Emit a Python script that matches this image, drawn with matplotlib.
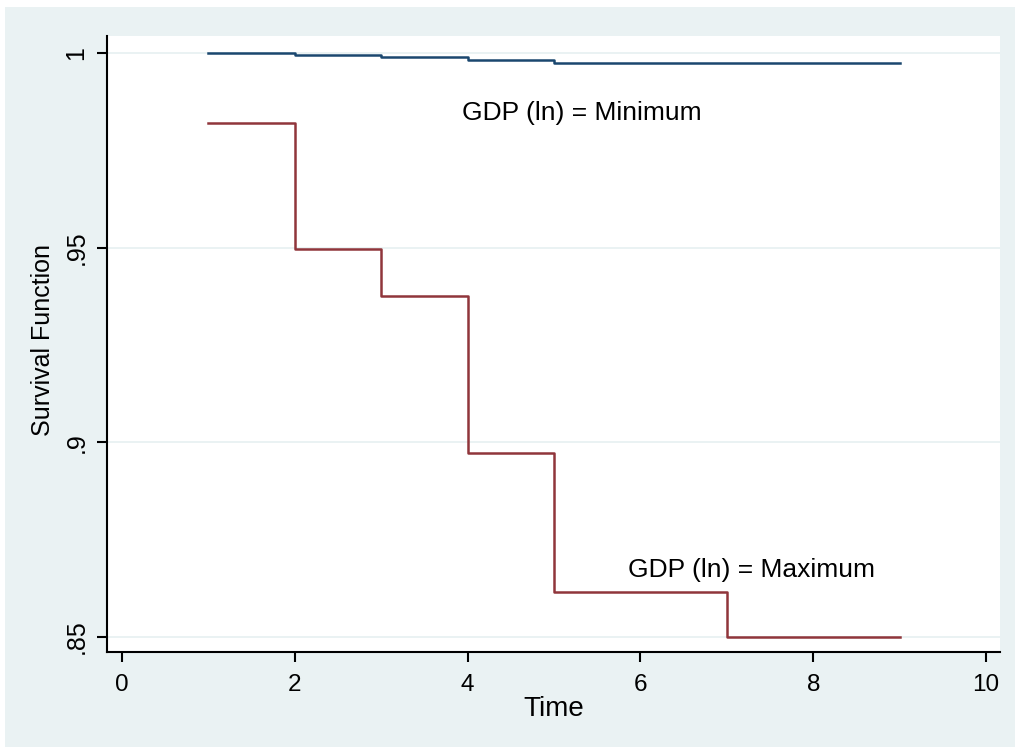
import matplotlib.pyplot as plt
from matplotlib.patches import Rectangle

plt.rcParams['font.family'] = ['Liberation Sans', 'DejaVu Sans']

# Kaplan-Meier style survival estimates by GDP (ln) level
time = [1, 2, 3, 4, 5, 7, 9]
surv_min = [1.0, 0.9995, 0.9989, 0.9983, 0.9973, 0.9973, 0.9973]
surv_max = [0.982, 0.9497, 0.9377, 0.8972, 0.8615, 0.85, 0.85]

xticks = [0, 2, 4, 6, 8, 10]
yticks = [0.85, 0.90, 0.95, 1.0]
ytick_labels = ['.85', '.9', '.95', '1']

bg = '#EAF2F3'

fig = plt.figure(figsize=(10.15, 7.47), dpi=100, facecolor='white')
fig.patches.append(Rectangle((5 / 1015, 0), 1, 740 / 747, transform=fig.transFigure,
                             facecolor=bg, edgecolor='none', zorder=-10))
ax = fig.add_axes([107 / 1015, 1 - 652 / 747, 893 / 1015, 616 / 747])
ax.set_facecolor('white')

ax.step(time, surv_min, where='post', color='#1A476F', lw=1.8)
ax.step(time, surv_max, where='post', color='#90353B', lw=1.8)

ax.text(5.32, 0.9828, 'GDP (ln) = Minimum', ha='center', va='baseline', fontsize=19)
ax.text(7.28, 0.8654, 'GDP (ln) = Maximum', ha='center', va='baseline', fontsize=19)

ax.set_xlim(-0.173, 10.16)
ax.set_ylim(0.84615, 1.00436)
ax.set_xticks(xticks)
ax.set_yticks(yticks)
ax.set_yticklabels(ytick_labels, rotation=90, va='center', fontsize=18)
ax.set_xticklabels([str(t) for t in xticks], fontsize=17.5)
ax.grid(axis='y', color=bg, lw=1.4)
ax.set_axisbelow(True)

for side in ['top', 'right']:
    ax.spines[side].set_visible(False)
for side in ['left', 'bottom']:
    ax.spines[side].set_linewidth(1.5)
ax.tick_params(direction='out', length=7.5, width=1.5)
ax.tick_params(axis='x', pad=8.5)
ax.tick_params(axis='y', pad=6)

ax.set_xlabel('Time', fontsize=20, labelpad=0)
ax.set_ylabel('Survival Function', fontsize=18, labelpad=7)
ax.yaxis.label.set_y(0.507)

fig.savefig('out.png', dpi=100, facecolor=fig.get_facecolor())
